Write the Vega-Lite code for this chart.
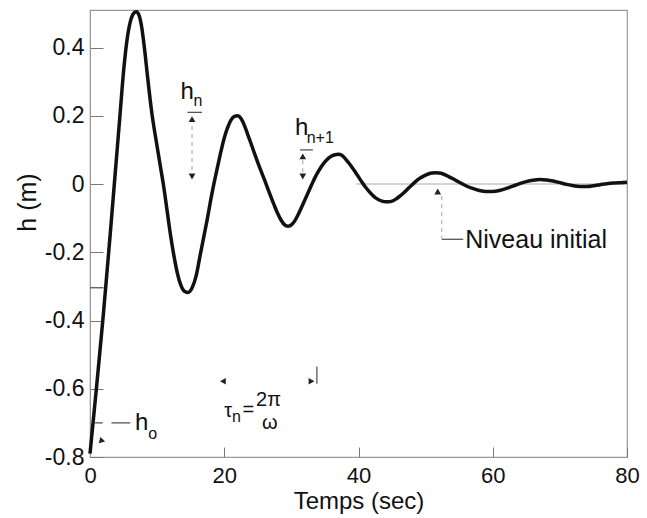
{
  "$schema": "https://vega.github.io/schema/vega-lite/v6.json",
  "width": 537,
  "height": 447,
  "autosize": {"type": "none"},
  "padding": {"left": 90, "top": 10, "right": 20, "bottom": 61},
  "background": "white",
  "config": {
    "font": "Liberation Sans",
    "view": {"stroke": "#999999", "strokeWidth": 1.2},
    "axis": {"grid": false, "domainColor": "#999999", "tickColor": "#777777", "labelColor": "#111111", "titleColor": "#111111", "titleFontWeight": "normal"}
  },
  "datasets": {
    "curve": [
      {"t": 0, "h": -0.79}, {"t": 0.5, "h": -0.69}, {"t": 1, "h": -0.59}, {"t": 1.5, "h": -0.485},
      {"t": 2, "h": -0.38}, {"t": 2.5, "h": -0.265}, {"t": 3, "h": -0.15}, {"t": 3.5, "h": -0.03},
      {"t": 4, "h": 0.09}, {"t": 4.5, "h": 0.21}, {"t": 5, "h": 0.33}, {"t": 5.5, "h": 0.42},
      {"t": 6, "h": 0.475}, {"t": 6.5, "h": 0.5}, {"t": 6.9, "h": 0.505}, {"t": 7.3, "h": 0.495},
      {"t": 7.7, "h": 0.46}, {"t": 8.1, "h": 0.4}, {"t": 8.6, "h": 0.31}, {"t": 9.2, "h": 0.21},
      {"t": 10, "h": 0.11}, {"t": 10.5, "h": 0.05}, {"t": 11, "h": -0.01}, {"t": 11.5, "h": -0.08},
      {"t": 12, "h": -0.15}, {"t": 12.5, "h": -0.21}, {"t": 13, "h": -0.26}, {"t": 13.5, "h": -0.295},
      {"t": 14, "h": -0.313}, {"t": 14.6, "h": -0.318}, {"t": 15.2, "h": -0.305}, {"t": 15.8, "h": -0.27},
      {"t": 16.4, "h": -0.21}, {"t": 17, "h": -0.15}, {"t": 17.5, "h": -0.1}, {"t": 18, "h": -0.045},
      {"t": 18.5, "h": 0.005}, {"t": 19, "h": 0.05}, {"t": 19.5, "h": 0.095}, {"t": 20, "h": 0.135},
      {"t": 20.5, "h": 0.165}, {"t": 21, "h": 0.187}, {"t": 21.5, "h": 0.198}, {"t": 22, "h": 0.2},
      {"t": 22.5, "h": 0.192}, {"t": 23, "h": 0.172}, {"t": 23.5, "h": 0.145}, {"t": 24, "h": 0.118},
      {"t": 24.5, "h": 0.09}, {"t": 25, "h": 0.063}, {"t": 25.5, "h": 0.037}, {"t": 26, "h": 0.012},
      {"t": 26.5, "h": -0.014}, {"t": 27, "h": -0.04}, {"t": 27.5, "h": -0.065}, {"t": 28, "h": -0.088},
      {"t": 28.5, "h": -0.107}, {"t": 29, "h": -0.12}, {"t": 29.5, "h": -0.124}, {"t": 30, "h": -0.12},
      {"t": 30.5, "h": -0.108}, {"t": 31, "h": -0.09}, {"t": 31.5, "h": -0.069}, {"t": 32, "h": -0.047},
      {"t": 32.5, "h": -0.025}, {"t": 33, "h": -0.003}, {"t": 33.5, "h": 0.018}, {"t": 34, "h": 0.036},
      {"t": 34.5, "h": 0.052}, {"t": 35, "h": 0.065}, {"t": 35.5, "h": 0.075}, {"t": 36, "h": 0.082},
      {"t": 36.5, "h": 0.086}, {"t": 37, "h": 0.087}, {"t": 37.5, "h": 0.084}, {"t": 38, "h": 0.075},
      {"t": 38.5, "h": 0.063}, {"t": 39, "h": 0.05}, {"t": 39.5, "h": 0.036}, {"t": 40, "h": 0.021},
      {"t": 40.5, "h": 0.006}, {"t": 41, "h": -0.008}, {"t": 41.5, "h": -0.02}, {"t": 42, "h": -0.031},
      {"t": 42.5, "h": -0.04}, {"t": 43, "h": -0.046}, {"t": 43.5, "h": -0.05}, {"t": 44, "h": -0.052},
      {"t": 44.5, "h": -0.052}, {"t": 45, "h": -0.05}, {"t": 45.5, "h": -0.045}, {"t": 46, "h": -0.038},
      {"t": 46.5, "h": -0.03}, {"t": 47, "h": -0.021}, {"t": 47.5, "h": -0.011}, {"t": 48, "h": -0.002},
      {"t": 48.5, "h": 0.007}, {"t": 49, "h": 0.015}, {"t": 49.5, "h": 0.021}, {"t": 50, "h": 0.026},
      {"t": 50.5, "h": 0.03}, {"t": 51, "h": 0.032}, {"t": 51.5, "h": 0.033}, {"t": 52, "h": 0.032},
      {"t": 52.5, "h": 0.03}, {"t": 53, "h": 0.026}, {"t": 53.5, "h": 0.021}, {"t": 54, "h": 0.016},
      {"t": 55, "h": 0.005}, {"t": 56, "h": -0.005}, {"t": 57, "h": -0.013}, {"t": 58, "h": -0.019},
      {"t": 59, "h": -0.022}, {"t": 60, "h": -0.022}, {"t": 61, "h": -0.019}, {"t": 62, "h": -0.013},
      {"t": 63, "h": -0.006}, {"t": 64, "h": 0.001}, {"t": 65, "h": 0.007}, {"t": 66, "h": 0.011},
      {"t": 67, "h": 0.013}, {"t": 68, "h": 0.012}, {"t": 69, "h": 0.009}, {"t": 70, "h": 0.004},
      {"t": 71, "h": -0.001}, {"t": 72, "h": -0.005}, {"t": 73, "h": -0.007}, {"t": 74, "h": -0.007},
      {"t": 75, "h": -0.005}, {"t": 76, "h": -0.002}, {"t": 77, "h": 0.001}, {"t": 78, "h": 0.003},
      {"t": 79, "h": 0.004}, {"t": 80, "h": 0.005}
    ],
    "zeroline": [{"t": 39.7, "h": 0, "t2": 80, "h2": 0}],
    "solidrules": [
      {"t": 14.5, "h": 0.21, "t2": 16.7, "h2": 0.21},
      {"t": 31.3, "h": 0.1, "t2": 33.2, "h2": 0.1},
      {"t": 0.75, "h": -0.7, "t2": 1.9, "h2": -0.7},
      {"t": 3.2, "h": -0.7, "t2": 6.0, "h2": -0.7},
      {"t": 33.8, "h": -0.535, "t2": 33.8, "h2": -0.585},
      {"t": 52.4, "h": -0.162, "t2": 55.6, "h2": -0.162},
      {"t": 0, "h": -0.304, "t2": 2.0, "h2": -0.304}
    ],
    "dashedrules": [
      {"t": 15.2, "h": 0.17, "t2": 15.2, "h2": 0.04},
      {"t": 31.7, "h": 0.07, "t2": 31.7, "h2": 0.03},
      {"t": 52.4, "h": -0.035, "t2": 52.4, "h2": -0.16}
    ],
    "arrowsUp": [{"t": 15.2, "h": 0.19}, {"t": 31.7, "h": 0.081}, {"t": 51.8, "h": -0.022}],
    "arrowsDown": [{"t": 15.2, "h": 0.022}, {"t": 31.7, "h": 0.022}],
    "arrowsLeft": [{"t": 19.8, "h": -0.578}],
    "arrowsRight": [{"t": 33.0, "h": -0.578}],
    "arrowsDownLeft": [{"t": 1.6, "h": -0.754}],
    "bigtext": [
      {"t": 14.46, "h": 0.271, "label": "h"},
      {"t": 31.55, "h": 0.165, "label": "h"},
      {"t": 7.7, "h": -0.7, "label": "h"}
    ],
    "formula": [
      {"t": 20.6, "h": -0.666, "label": "τ"},
      {"t": 23.6, "h": -0.663, "label": "="},
      {"t": 26.6, "h": -0.632, "label": "2π"},
      {"t": 26.8, "h": -0.7, "label": "ω"}
    ],
    "subtext": [
      {"t": 16.1, "h": 0.242, "label": "n"},
      {"t": 34.3, "h": 0.136, "label": "n+1"},
      {"t": 9.35, "h": -0.732, "label": "o"},
      {"t": 21.8, "h": -0.684, "label": "n"}
    ],
    "niveau": [{"t": 55.9, "h": -0.163, "label": "Niveau initial"}]
  },
  "encoding": {
    "x": {
      "field": "t", "type": "quantitative",
      "scale": {"domain": [0, 80], "nice": false, "zero": false},
      "axis": {"title": "Temps (sec)", "values": [0, 20, 40, 60, 80], "labelFontSize": 22, "titleFontSize": 24, "tickSize": -10, "labelPadding": 18, "labelFlush": false,
        "titleY": 51, "titleBaseline": "alphabetic"}
    },
    "y": {
      "field": "h", "type": "quantitative",
      "scale": {"domain": [-0.8, 0.51], "nice": false, "zero": false},
      "axis": {"title": "h (m)", "values": [-0.8, -0.6, -0.4, -0.2, 0, 0.2, 0.4], "labelFontSize": 23, "titleFontSize": 25, "tickSize": -13, "labelPadding": 19, "labelFlush": false,
        "labelExpr": "abs(datum.value) < 1e-9 ? '0' : (datum.value < 0 ? '-' + format(-datum.value, '.1f') : format(datum.value, '.1f'))",
        "titleX": -63, "titleY": 192, "titleAlign": "center", "titleBaseline": "middle", "titleAngle": -90}
    }
  },
  "layer": [
    {"data": {"name": "zeroline"}, "mark": {"type": "rule", "color": "#aaaaaa", "strokeWidth": 1.2}, "encoding": {"x2": {"field": "t2"}, "y2": {"field": "h2"}}},
    {"data": {"name": "curve"}, "mark": {"type": "line", "color": "#111111", "strokeWidth": 3.5, "interpolate": "monotone"}},
    {"data": {"name": "solidrules"}, "mark": {"type": "rule", "color": "#555555", "strokeWidth": 1.3}, "encoding": {"x2": {"field": "t2"}, "y2": {"field": "h2"}}},
    {"data": {"name": "dashedrules"}, "mark": {"type": "rule", "color": "#aaaaaa", "strokeWidth": 1.1, "strokeDash": [4, 4]}, "encoding": {"x2": {"field": "t2"}, "y2": {"field": "h2"}}},
    {"data": {"name": "arrowsUp"}, "mark": {"type": "point", "shape": "triangle-up", "filled": true, "color": "#222222", "size": 45, "opacity": 1}},
    {"data": {"name": "arrowsDown"}, "mark": {"type": "point", "shape": "triangle-down", "filled": true, "color": "#222222", "size": 45, "opacity": 1}},
    {"data": {"name": "arrowsLeft"}, "mark": {"type": "point", "shape": "triangle-left", "filled": true, "color": "#222222", "size": 45, "opacity": 1}},
    {"data": {"name": "arrowsRight"}, "mark": {"type": "point", "shape": "triangle-right", "filled": true, "color": "#222222", "size": 45, "opacity": 1}},
    {"data": {"name": "arrowsDownLeft"}, "mark": {"type": "point", "shape": "triangle-down", "angle": 45, "filled": true, "color": "#222222", "size": 45, "opacity": 1}},
    {"data": {"name": "bigtext"}, "mark": {"type": "text", "fontSize": 24, "color": "#111111", "align": "center", "baseline": "middle"}, "encoding": {"text": {"field": "label"}}},
    {"data": {"name": "formula"}, "mark": {"type": "text", "fontSize": 20, "color": "#111111", "align": "center", "baseline": "middle"}, "encoding": {"text": {"field": "label"}}},
    {"data": {"name": "subtext"}, "mark": {"type": "text", "fontSize": 16, "color": "#111111", "align": "center", "baseline": "middle"}, "encoding": {"text": {"field": "label"}}},
    {"data": {"name": "niveau"}, "mark": {"type": "text", "fontSize": 25, "color": "#111111", "align": "left", "baseline": "middle"}, "encoding": {"text": {"field": "label"}}}
  ]
}
